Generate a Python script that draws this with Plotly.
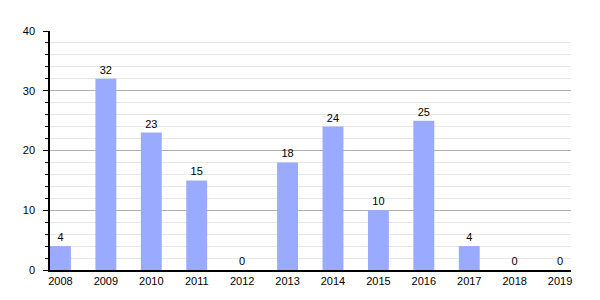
import plotly.graph_objects as go

years = ["2008", "2009", "2010", "2011", "2012", "2013", "2014", "2015", "2016", "2017", "2018", "2019"]
counts = [4, 32, 23, 15, 0, 18, 24, 10, 25, 4, 0, 0]

fig = go.Figure(go.Bar(
    x=years, y=counts,
    marker=dict(color="#99aaff", line=dict(width=0)),
    width=0.46,
    text=[str(v) for v in counts],
    textposition="outside",
    textfont=dict(size=11, color="#000000", family="Liberation Sans, Arial, sans-serif"),
    cliponaxis=False,
))

fig.update_layout(
    width=600, height=300,
    margin=dict(l=50, r=29, t=31, b=30),
    paper_bgcolor="white", plot_bgcolor="white",
    font=dict(family="Liberation Sans, Arial, sans-serif", size=11, color="#000000"),
    showlegend=False,
    xaxis=dict(
        type="category",
        range=[-0.23, 11.24],
        showline=True, linecolor="#000000", linewidth=1.5,
        showgrid=False, ticks="", tickfont=dict(size=11),
        zeroline=False,
    ),
    yaxis=dict(
        range=[0, 40], dtick=10,
        showline=True, linecolor="#000000", linewidth=1.5,
        showgrid=True, gridcolor="#b0b0b0", gridwidth=1,
        ticks="outside", ticklen=5, tickcolor="#000000",
        ticklabelstandoff=6,
        tickfont=dict(size=11),
        zeroline=False,
        minor=dict(dtick=2, showgrid=True, gridcolor="#e6e6e6", gridwidth=1,
                   ticks="outside", ticklen=3, tickcolor="#000000"),
    ),
)

fig.write_html("out.html")
